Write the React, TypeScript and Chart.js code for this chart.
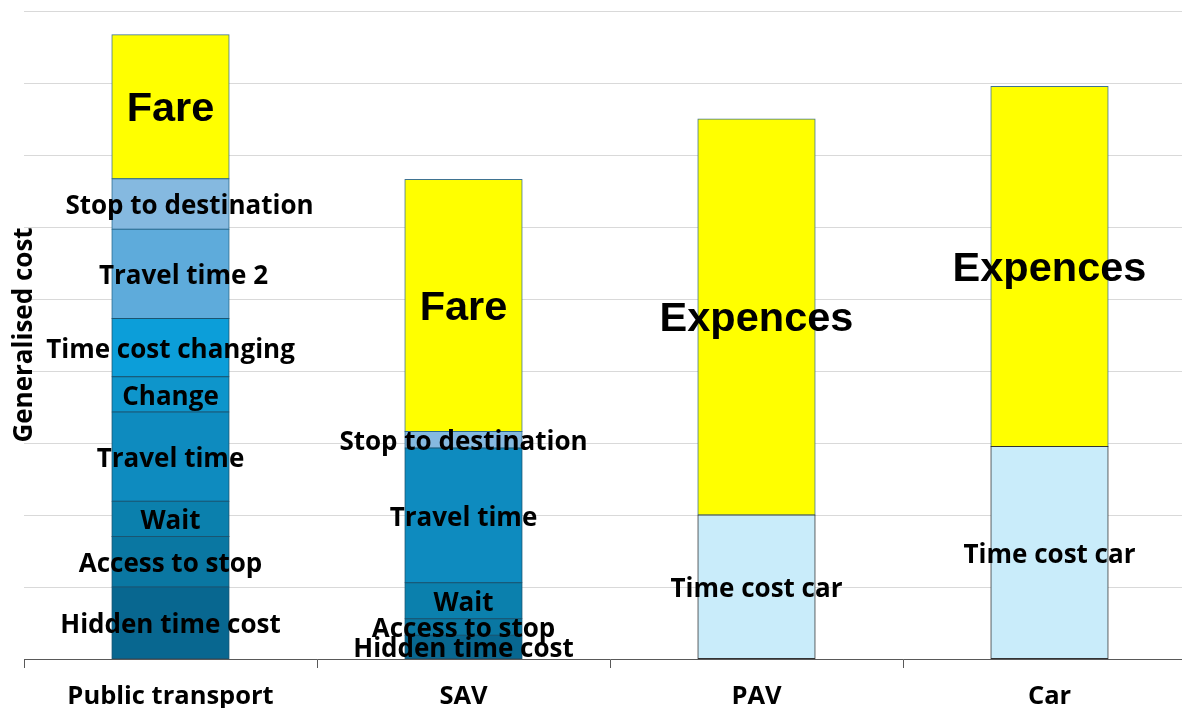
import React, { useEffect, useRef } from "react";
import { Chart, registerables } from "chart.js";

Chart.register(...registerables);

// Transport modes on the x axis
const categories = ["Public transport", "SAV", "PAV", "Car"];

// Stacked cost components (bottom to top), null where a mode has no such component
const hiddenTimeCost = [1.0, 0.33, null, null];
const accessToStop = [0.7, 0.23, null, null];
const waitCost = [0.49, 0.5, null, null];
const travelTime = [1.24, 1.87, null, null];
const changeCost = [0.49, null, null, null];
const timeCostChanging = [0.81, null, null, null];
const travelTime2 = [1.24, null, null, null];
const stopToDestination = [0.7, 0.23, null, null];
const timeCostCar = [null, null, 2.0, 2.95];
const fare = [2.0, 3.5, null, null];
const expences = [null, null, 5.5, 5.0];

const yMax = 9;

const bigLabels = new Set(["Fare", "Expences"]);

// Writes each segment's name across the middle of its bar piece
const segmentLabels = {
  id: "segmentLabels",
  afterDatasetsDraw(chart: any) {
    const ctx = chart.ctx;
    ctx.save();
    ctx.fillStyle = "#000000";
    ctx.textAlign = "center";
    ctx.textBaseline = "middle";
    chart.data.datasets.forEach((ds: any, i: number) => {
      const meta = chart.getDatasetMeta(i);
      if (meta.hidden) return;
      ctx.font = bigLabels.has(ds.label)
        ? "bold 41.5px 'Liberation Sans', Arial, sans-serif"
        : "bold 26px 'Open Sans', sans-serif";
      meta.data.forEach((el: any, j: number) => {
        const v = ds.data[j];
        if (v === null || v === undefined) return;
        const { x, y, base } = el.getProps(["x", "y", "base"], true);
        const dx = ds.labelShift ? ds.labelShift[j] || 0 : 0;
        ctx.fillText(ds.label, x + dx, (y + base) / 2 + 3);
      });
    });
    ctx.restore();
  },
};

function ds(
  label: string,
  data: (number | null)[],
  bg: string,
  border: string,
  labelShift?: number[]
) {
  return {
    label,
    data,
    backgroundColor: bg,
    borderColor: border,
    borderWidth: 1,
    borderSkipped: false,
    inflateAmount: 0.5,
    labelShift,
  };
}

export default function App() {
  const canvasRef = useRef<HTMLCanvasElement | null>(null);

  useEffect(() => {
    if (!canvasRef.current) return;
    const chart = new Chart(canvasRef.current, {
      type: "bar",
      data: {
        labels: categories,
        datasets: [
          ds("Hidden time cost", hiddenTimeCost, "#086790", "#1a5572"),
          ds("Access to stop", accessToStop, "#0a77a2", "#1a5572"),
          ds("Wait", waitCost, "#0b80ad", "#1a5572"),
          ds("Travel time", travelTime, "#0e8bbf", "#1a5572"),
          ds("Change", changeCost, "#0e95cb", "#1a5572"),
          ds("Time cost changing", timeCostChanging, "#0c9ed9", "#1a5572"),
          ds("Travel time 2", travelTime2, "#5eabdb", "#2a6a8e", [13, 0, 0, 0]),
          ds("Stop to destination", stopToDestination, "#85b9e0", "#2a6a8e", [19, 0, 0, 0]),
          ds("Time cost car", timeCostCar, "#c9ecfa", "#333333"),
          ds("Fare", fare, "#ffff00", "#3f7391"),
          ds("Expences", expences, "#ffff00", "#3f7391"),
        ],
      },
      options: {
        responsive: false,
        animation: false,
        devicePixelRatio: 1,
        layout: { padding: { left: 0, right: 4, top: 11, bottom: 0 } },
        plugins: {
          legend: { display: false },
          tooltip: { enabled: false },
        },
        datasets: {
          bar: { categoryPercentage: 1, barPercentage: 0.4 },
        },
        scales: {
          x: {
            stacked: true,
            afterFit: (scale: any) => {
              scale.height = 49;
            },
            grid: {
              display: true,
              drawOnChartArea: false,
              drawTicks: true,
              tickLength: 9,
              color: "#595959",
            },
            border: { display: true, color: "#595959", width: 1 },
            ticks: {
              color: "#000000",
              padding: 13,
              font: { family: "'Open Sans', sans-serif", size: 25.5, weight: "bold" },
            },
          },
          y: {
            stacked: true,
            min: 0,
            max: yMax,
            ticks: { display: false, stepSize: 1 },
            grid: { color: "#d9d9d9", drawTicks: false, lineWidth: 1 },
            border: { display: false },
            title: {
              display: true,
              text: "Generalised cost",
              color: "#000000",
              padding: { top: 13, bottom: -13 },
              font: {
                family: "'Open Sans', sans-serif",
                size: 26,
                weight: "bold",
                lineHeight: "24px",
              },
            },
          },
        },
      },
      plugins: [segmentLabels],
    });
    return () => chart.destroy();
  }, []);

  return (
    <div
      style={{
        position: "fixed",
        left: 0,
        top: 0,
        width: 1182,
        height: 708,
        overflow: "hidden",
        background: "#ffffff",
      }}
    >
      <canvas ref={canvasRef} width={1200} height={708} style={{ display: "block" }} />
    </div>
  );
}
